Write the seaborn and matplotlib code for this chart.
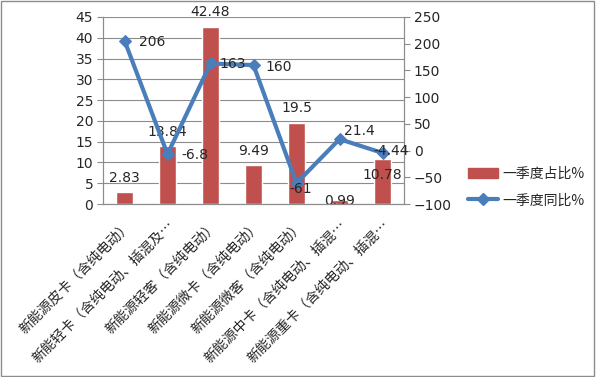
import numpy as np
import pandas as pd
import matplotlib
matplotlib.use("Agg")
import matplotlib.pyplot as plt
import seaborn as sns
from matplotlib.patches import Patch, Rectangle
from matplotlib.lines import Line2D

categories = ["新能源皮卡（含纯电动）", "新能轻卡（含纯电动、插混及…", "新能源轻客（含纯电动）",
              "新能源微卡（含纯电动）", "新能源微客（含纯电动）", "新能源中卡（含纯电动、插混…",
              "新能源重卡（含纯电动、插混…"]
share = [2.83, 13.84, 42.48, 9.49, 19.5, 0.99, 10.78]
yoy = [206, -6.8, 163, 160, -61, 21.4, -4.44]
share_labels = ["2.83", "13.84", "42.48", "9.49", "19.5", "0.99", "10.78"]
yoy_labels = ["206", "-6.8", "163", "160", "-61", "21.4", "-4.44"]
left_ticks = [0, 5, 10, 15, 20, 25, 30, 35, 40, 45]
right_ticks = [-100, -50, 0, 50, 100, 150, 200, 250]

sns.set_style("white")
plt.rcParams['font.family'] = ['DejaVu Sans', 'Noto Sans CJK SC']
cjk = ['Noto Sans CJK SC', 'DejaVu Sans']

bar_color = "#C0504D"
line_color = "#4A7EBB"
grid_color = "#8C8C8C"

fig = plt.figure(figsize=(5.96, 3.77), dpi=100)
ax = fig.add_axes([103/596, 1-204/377, 301/596, 187/377])
ax2 = ax.twinx()

df = pd.DataFrame({"cat": categories, "share": share, "yoy": yoy})
sns.barplot(data=df, x="cat", y="share", color=bar_color, width=0.4, ax=ax,
            saturation=1, zorder=3)
ax.set_ylim(0, 45)
ax.set_xlim(-0.5, len(categories) - 0.5)
ax.set_yticks(left_ticks)
ax.yaxis.grid(True, color=grid_color, linewidth=0.8, zorder=0)
ax.set_axisbelow(True)
ax.set_xlabel("")
ax.set_ylabel("")

sns.lineplot(x=np.arange(len(yoy)), y=yoy, ax=ax2, color=line_color, linewidth=3,
             marker="D", markersize=6.5, markeredgecolor=line_color, zorder=5)
ax2.set_ylim(-100, 250)
ax2.set_yticks(right_ticks)
ax2.set_xlim(-0.5, len(categories) - 0.5)
ax2.set_ylabel("")

for a in (ax, ax2):
    a.spines["top"].set_visible(False)
    for s in ("left", "right", "bottom"):
        a.spines[s].set_color(grid_color)
        a.spines[s].set_linewidth(0.8)

ax.tick_params(axis="y", which="both", direction="out", length=4, color=grid_color,
               labelsize=10, pad=3)
ax2.tick_params(axis="y", which="both", direction="out", length=4, color=grid_color,
                labelsize=10, pad=3)
ax.set_xticks(np.arange(len(categories)))
ax.set_xticklabels(categories, rotation=45, ha="right", rotation_mode="anchor",
                   fontsize=10, family=cjk)
ax.tick_params(axis="x", which="major", length=0, pad=10)
ax.set_xticks(np.arange(-0.5, len(categories)), minor=True)
ax.tick_params(axis="x", which="minor", length=4, color=grid_color, direction="out")
ax2.tick_params(axis="x", length=0)

# data labels
bar_off = [-14, -14, -15, -14, -15, 1, 16]
for i, (v, t) in enumerate(zip(share, share_labels)):
    ax.annotate(t, (i, v), xytext=(0, -bar_off[i] * 0.72), textcoords="offset points",
                ha="center", va="center", fontsize=10, zorder=6)
line_off = [(28, 1), (27, 1), (22, 1), (25, 2), (4, 6), (20, -8), (9, -2)]
for i, (v, t) in enumerate(zip(yoy, yoy_labels)):
    dx, dy = line_off[i]
    ax2.annotate(t, (i, v), xytext=(dx * 0.72, -dy * 0.72), textcoords="offset points",
                 ha="center", va="center", fontsize=10, zorder=6)

handles = [Patch(facecolor=bar_color, edgecolor=bar_color),
           Line2D([], [], color=line_color, linewidth=3, marker="D", markersize=6)]
fig.legend(handles, ["一季度占比%", "一季度同比%"], loc="center left",
           bbox_to_anchor=(455/596, 1-187/377), frameon=False,
           prop={"family": cjk, "size": 10}, handlelength=2.2, labelspacing=0.9,
           handletextpad=0.3)

fig.patches.append(Rectangle((0.002, 0.003), 0.995, 0.994, transform=fig.transFigure,
                             fill=False, edgecolor="#8C8C8C", linewidth=1))

fig.savefig("out.png", dpi=100)
